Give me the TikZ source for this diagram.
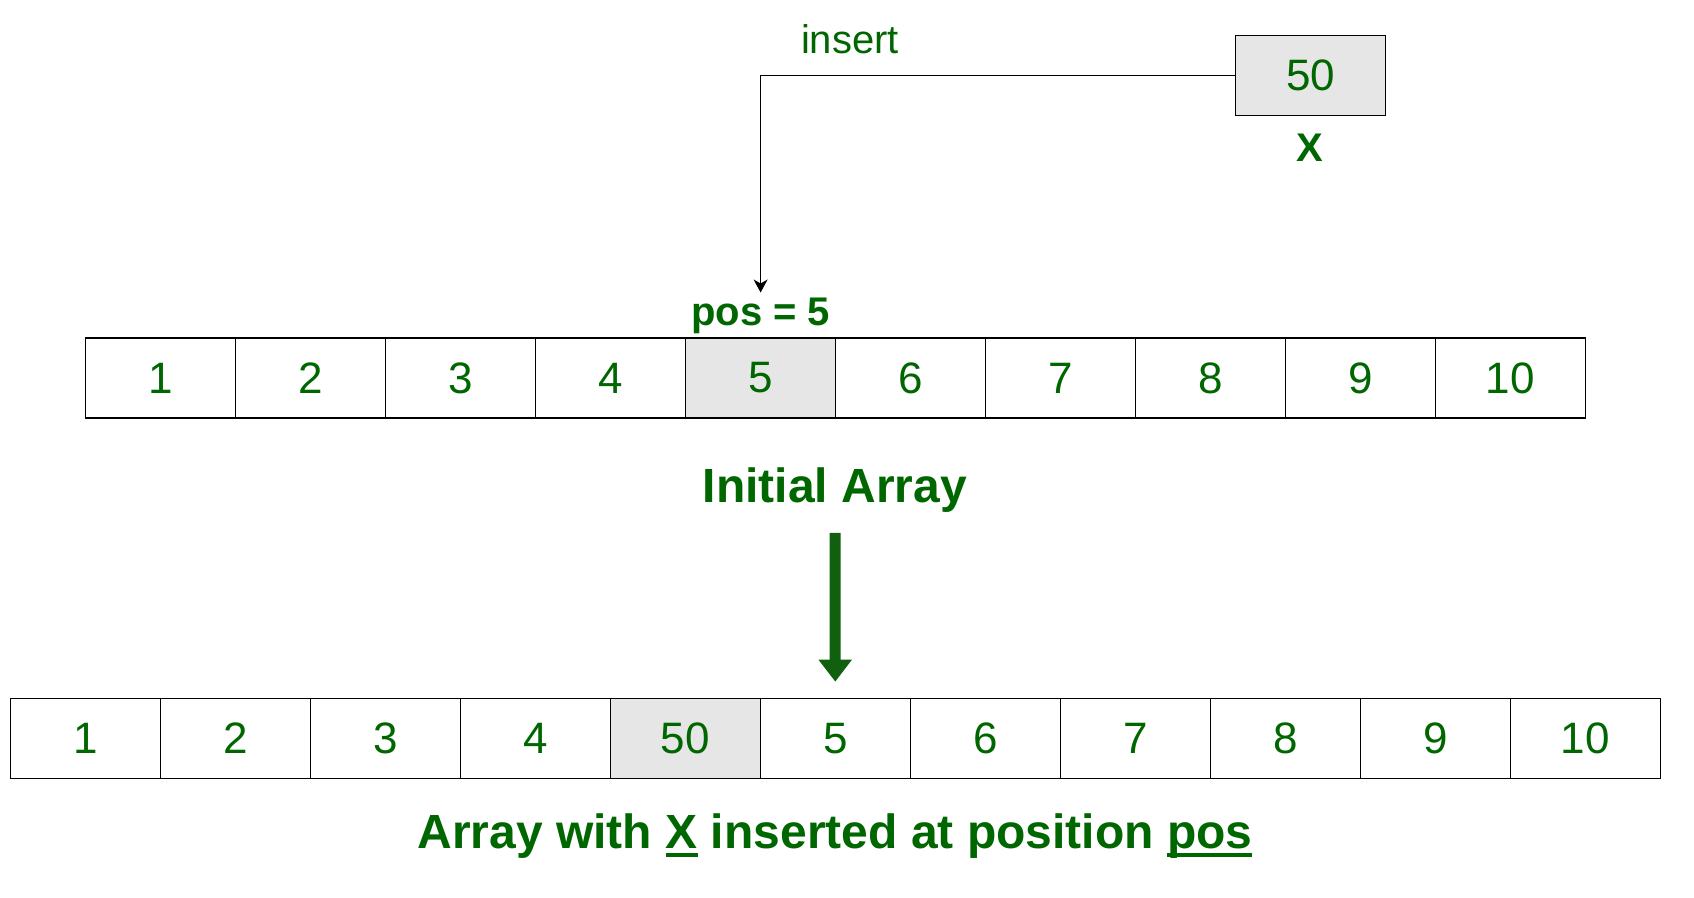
\documentclass[tikz,border=0pt]{standalone}
\usepackage{fontspec}
\setmainfont{Liberation Sans}
\usetikzlibrary{positioning, arrows.meta, calc}
\definecolor{gfgGreen}{RGB}{0,102,0}
\definecolor{arrowGreen}{RGB}{16,96,16}
\definecolor{cellGray}{RGB}{230,230,230}
\newcommand\ulword[1]{\setbox0\hbox{#1}\rlap{\rule[-0.17em]{\wd0}{0.07em}}\box0\relax}
\tikzset{
  cell/.style = {draw, line width=0.75pt, minimum width=75pt, minimum height=40pt,
                 inner sep=0pt, outer sep=0pt, text=gfgGreen, font=\fontsize{22}{26}\selectfont},
  marked/.style = {cell, fill=cellGray},
  caption/.style = {text=gfgGreen, font=\fontsize{24}{28}\selectfont\bfseries},
  tag/.style = {text=gfgGreen, font=\fontsize{20}{24}\selectfont},
  pointer/.style = {-{Stealth[length=6.5pt, width=7pt, inset=2pt]}, line width=0.5pt},
  bigarrow/.style = {-{Triangle[length=11pt, width=16pt]}, line width=5.5pt, arrowGreen}
}

\begin{document}
\begin{tikzpicture}[x=0.5pt, y=0.5pt]
    \useasboundingbox (0,0) rectangle (1694,898);

    % initial array
    \node[cell] (a1) at (160.3,520) {1};
    \foreach \v/\s [count=\i from 2] in {2/cell, 3/cell, 4/cell, 5/marked, 6/cell, 7/cell, 8/cell, 9/cell, 10/cell} {
      \pgfmathtruncatemacro\prev{\i-1}
      \node[\s, right=0pt of a\prev] (a\i) {\v};
    }

    % array after insertion
    \node[cell] (b1) at (85.3,159.7) {1};
    \foreach \v/\s [count=\i from 2] in {2/cell, 3/cell, 4/cell, 50/marked, 5/cell, 6/cell, 7/cell, 8/cell, 9/cell, 10/cell} {
      \pgfmathtruncatemacro\prev{\i-1}
      \node[\s, right=0pt of b\prev] (b\i) {\v};
    }

    % element to insert
    \node[marked] (x) at (1310.5,822.4) {50};
    \node[tag, font=\fontsize{20}{24}\selectfont\bfseries] (xname) at (1309.5,750) {X};
    \node[tag] (insert) at (850,859) {insert};
    \node[tag, font=\fontsize{20}{24}\selectfont\bfseries] (pos) at (760.6,582.5) {pos = 5};

    \node[caption] (init) at (835,408) {Initial Array};
    \node[caption] (result) at (835,62) {Array with \ulword{X} inserted at position \ulword{pos}};

    \draw[pointer, shorten >=-1pt] (x.west) -| (pos.north);
    \draw[bigarrow, shorten <=6.7pt, shorten >=8.3pt] (init.south) -- (b6.north);

\end{tikzpicture}
\end{document}
